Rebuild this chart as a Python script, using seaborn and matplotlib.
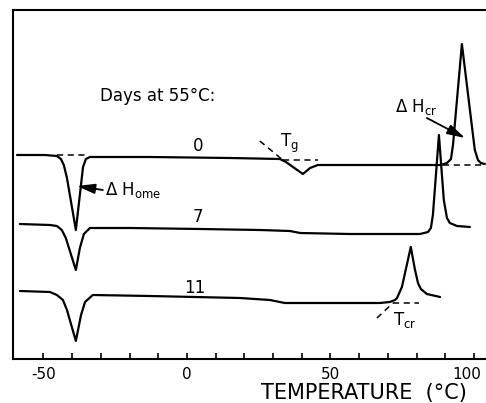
import numpy as np
import pandas as pd
import matplotlib.pyplot as plt
import matplotlib.transforms as mtransforms
import seaborn as sns

# DSC traces (temperature in degC, signal in arbitrary units)
t_day0 = [-59.2, -49.5, -45.3, -43.9, -42.9, -41.8, -38.7, -36.2, -35.2, -33.8, -12.9, 15.0,
          32.4, 34.5, 40.4, 42.9, 45.6, 88.5, 90.6, 92.0, 92.7, 95.8, 98.6, 100.3, 101.4, 102.4, 103.8]
s_day0 = [204, 204, 203, 200, 194, 181, 129, 192, 200, 202, 202, 201,
          200, 197, 185, 191, 194, 194, 196, 200, 214, 315, 249, 209, 199, 196, 195]

t_day7 = [-58.2, -47.7, -45.3, -43.6, -42.2, -38.7, -37.3, -35.9, -33.8, -19.9, 4.5, 25.4,
          35.9, 39.4, 56.8, 81.2, 84.0, 85.0, 85.7, 87.8, 89.5, 90.6, 91.6, 94.1, 98.6]
s_day7 = [135, 134, 133, 129, 121, 89, 111, 125, 131, 131, 130, 129,
          128, 126, 125, 125, 127, 131, 144, 224, 159, 141, 136, 133, 132]

t_day11 = [-58.2, -47.7, -45.3, -43.2, -41.8, -38.7, -36.9, -35.5, -32.8, -12.9, 18.5, 28.9,
           34.1, 49.8, 67.2, 70.7, 72.5, 73.2, 74.9, 78.0, 79.4, 80.5, 81.5, 83.6, 88.2]
s_day11 = [68, 67, 64, 59, 49, 18, 44, 57, 64, 63, 61, 59,
           56, 56, 56, 57, 59, 61, 72, 112, 90, 76, 70, 65, 62]

day_labels = ["0", "7", "11"]
day_label_pos = [(3.8, 213), (3.8, 142), (2.8, 71)]

# construction lines (baselines and onset tangents)
base_home_t, base_home_s = [-45.3, -34.5], [204, 204]
base_cr_t, base_cr_s = [89.2, 104.2], [194, 194]
tg_tan_t, tg_tan_s = [25.4, 33.4], [218, 199]
tg_base_t, tg_base_s = [33.4, 45.6], [199, 199]
tcr_tan_t, tcr_tan_s = [66.2, 71.8], [41, 56]
tcr_base_t, tcr_base_s = [71.8, 80.8], [56, 56]

major_ticks = [-50, 0, 50, 100]
tick_labels = ["-50", "0", "50", "100"]
minor_ticks = list(range(-50, 101, 10))

sns.set_style("ticks")
plt.rcParams['font.family'] = ['DejaVu Sans']
plt.rcParams['mathtext.default'] = 'regular'
for key in ["text.color", "axes.edgecolor", "axes.labelcolor", "xtick.color"]:
    plt.rcParams[key] = "black"

fig = plt.figure(figsize=(4.86, 4.03), dpi=100)
ax = fig.add_axes([13 / 486, 44 / 403, 473 / 486, 349 / 403])

for t, s in [(t_day0, s_day0), (t_day7, s_day7), (t_day11, s_day11)]:
    df = pd.DataFrame({"T": t, "S": s})
    sns.lineplot(data=df, x="T", y="S", ax=ax, color="black", lw=1.6,
                 sort=False, estimator=None)

for t, s in [(base_home_t, base_home_s), (base_cr_t, base_cr_s), (tg_tan_t, tg_tan_s),
             (tg_base_t, tg_base_s), (tcr_tan_t, tcr_tan_s), (tcr_base_t, tcr_base_s)]:
    sns.lineplot(x=t, y=s, ax=ax, color="black", lw=1.1, dashes=False,
                 linestyle=(0, (4, 3)), estimator=None, sort=False)

for lab, (x, y) in zip(day_labels, day_label_pos):
    ax.text(x, y, lab, fontsize=12, ha="center", va="center")

ax.text(-30.3, 263, "Days at 55°C:", fontsize=12, ha="left", va="center")
ax.text(32.4, 216, "T$_g$", fontsize=12, ha="left", va="center")
ax.text(71.8, 39, "T$_{cr}$", fontsize=12, ha="left", va="center")
ax.text(72.5, 252, r"$\Delta$ H$_{cr}$", fontsize=12, ha="left", va="center")
ax.text(-28.6, 169, r"$\Delta$ H$_{ome}$", fontsize=12, ha="left", va="center")

arrow = dict(arrowstyle="-|>,head_length=0.9,head_width=0.25", color="black",
             lw=1.3, mutation_scale=12, shrinkA=0, shrinkB=0)
ax.annotate("", xy=(96.9, 221), xytext=(83.6, 241), arrowprops=arrow)
ax.annotate("", xy=(-38.3, 173), xytext=(-29.3, 169), arrowprops=arrow)

ax.set_xlim(-60.6, 104.2)
ax.set_ylim(0, 349)
ax.set_xticks(major_ticks)
ax.set_xticklabels(tick_labels)
ax.set_xticks(minor_ticks, minor=True)
ax.set_yticks([])
ax.tick_params(axis="x", which="both", direction="in", length=4, width=1.2,
               labelsize=11, pad=6)
# nudge the last label left so it stays inside the figure
last = ax.get_xticklabels()[-1]
last.set_transform(last.get_transform() + mtransforms.ScaledTranslation(-5 / 72, 0, fig.dpi_scale_trans))
ax.set_ylabel("")
ax.set_xlabel("TEMPERATURE  (°C)", fontsize=15)
ax.xaxis.set_label_coords(0.742, -0.068)
ax.spines["right"].set_visible(False)
for sp in ["left", "top", "bottom"]:
    ax.spines[sp].set_linewidth(1.5)

fig.savefig("out.png", dpi=100)
